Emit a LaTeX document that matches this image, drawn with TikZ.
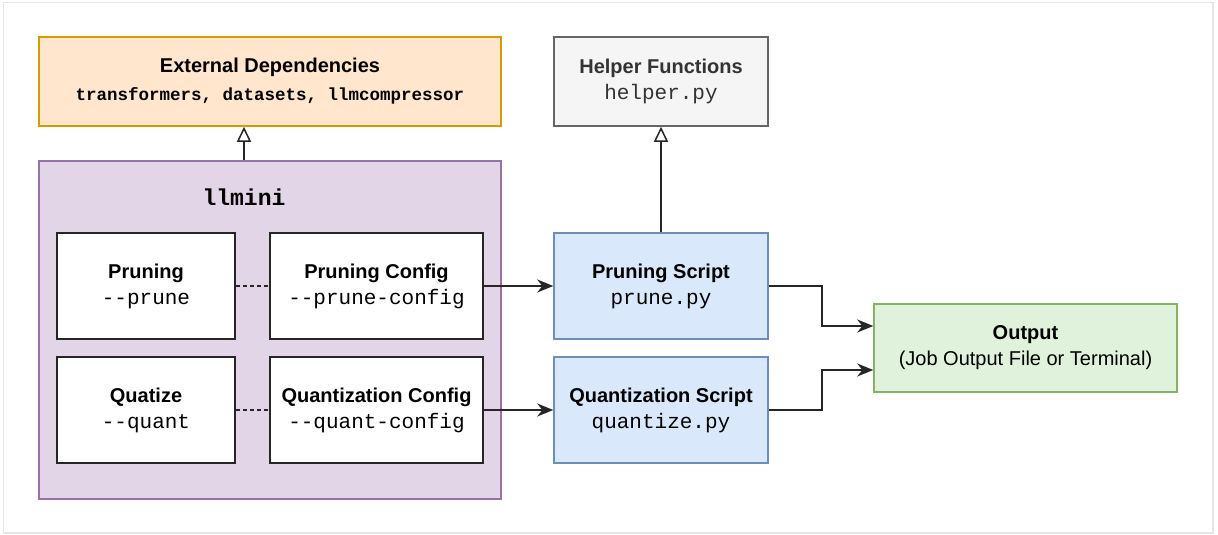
\documentclass[tikz,border=0pt]{standalone}
\usepackage{fontspec}
\setmainfont{Liberation Sans}
\setmonofont{Liberation Mono}
\usetikzlibrary{arrows.meta,positioning}

\definecolor{extfill}{HTML}{FFE6CC}
\definecolor{extline}{HTML}{D79B00}
\definecolor{pkgfill}{HTML}{E1D5E7}
\definecolor{pkgline}{HTML}{9673A6}
\definecolor{helpfill}{HTML}{F5F5F5}
\definecolor{helpline}{HTML}{666666}
\definecolor{helptext}{HTML}{333333}
\definecolor{scrfill}{HTML}{DAE8FC}
\definecolor{scrline}{HTML}{6C8EBF}
\definecolor{outfill}{HTML}{E0F2DC}
\definecolor{outline}{HTML}{82B366}
\definecolor{framecol}{HTML}{E6E6E6}

\newcommand{\ttl}[1]{{\bfseries #1}}
\newcommand{\cde}[1]{{\fontsize{21}{26}\selectfont\ttfamily #1}}

\tikzset{
  box/.style={draw, line width=1.5pt, align=center, inner sep=0pt,
    font=\fontsize{20}{26}\selectfont},
  optbox/.style={box, draw=black!85, fill=white, minimum width=178pt, minimum height=106pt},
  cfgbox/.style={box, draw=black!85, fill=white, minimum width=213pt, minimum height=106pt},
  scrbox/.style={box, draw=scrline, fill=scrfill, minimum width=214pt, minimum height=106pt},
  link/.style={line width=1.5pt, draw=black!85},
  arr/.style={link, -{Stealth[length=16pt,width=13pt,inset=5pt]}},
  inherit/.style={link, -{Triangle[open,length=15pt,width=14pt,fill=white]}},
  dotted link/.style={link, dash pattern=on 4pt off 3pt},
}

\begin{document}
\begin{tikzpicture}[x=1pt,y=-1pt]
\useasboundingbox (0,0) rectangle (1218,535);
\draw[framecol, line width=1.2pt] (3.5,2.5) rectangle (1213,533);

% external packages
\node[box, draw=extline, fill=extfill, minimum width=462pt, minimum height=89pt]
  (ext) at (270,81.5) {\ttl{External Dependencies}\\[2pt]
  {\fontsize{17.5}{24}\selectfont\ttfamily\bfseries transformers, datasets, llmcompressor}};

% llmini package
\node[box, draw=pkgline, fill=pkgfill, minimum width=462pt, minimum height=338pt]
  (llmini) at (270,330) {};
\node (pkgname) at (244,197) {{\fontsize{23}{25}\selectfont\ttfamily\bfseries llmini}};

\node[optbox] (prune) at (146,286) {\ttl{Pruning}\\\cde{-{}-prune}};
\node[cfgbox] (prunecfg) at (376.5,286) {\ttl{Pruning Config}\\\cde{-{}-prune-config}};
\node[optbox] (quant) at (146,410) {\ttl{Quatize}\\\cde{-{}-quant}};
\node[cfgbox] (quantcfg) at (376.5,410) {\ttl{Quantization Config}\\\cde{-{}-quant-config}};

% helper module
\node[box, draw=helpline, fill=helpfill, text=helptext, minimum width=214pt, minimum height=89pt]
  (helper) at (661,81.5) {\ttl{Helper Functions}\\\cde{helper.py}};

% scripts
\node[scrbox] (pscript) at (661,286) {\ttl{Pruning Script}\\\cde{prune.py}};
\node[scrbox] (qscript) at (661,410) {\ttl{Quantization Script}\\\cde{quantize.py}};

% output
\node[box, draw=outline, fill=outfill, minimum width=303pt, minimum height=88pt]
  (out) at (1025.5,348) {\ttl{Output}\\(Job Output File or Terminal)};

% connectors
\draw[inherit] ([xshift=-26pt]llmini.north) -- ([xshift=-26pt]ext.south);
\draw[inherit] (pscript.north) -- (helper.south);
\draw[dotted link] (prune.east) -- (prunecfg.west);
\draw[dotted link] (quant.east) -- (quantcfg.west);
\draw[arr] (prunecfg.east) -- (pscript.west);
\draw[arr] (quantcfg.east) -- (qscript.west);
\draw[arr] (pscript.east) -- ++(53,0) |- ([yshift=22pt]out.west);
\draw[arr] (qscript.east) -- ++(53,0) |- ([yshift=-22pt]out.west);
\end{tikzpicture}
\end{document}
